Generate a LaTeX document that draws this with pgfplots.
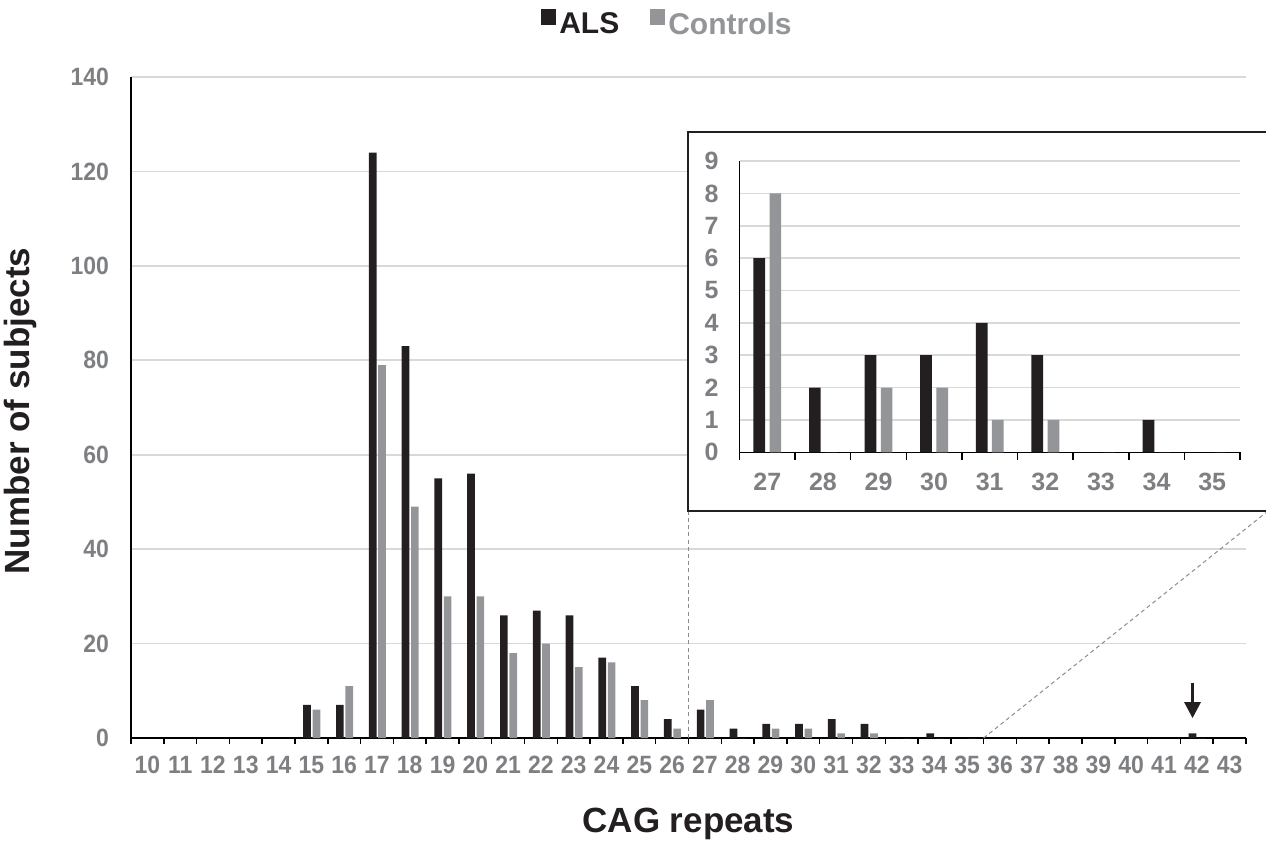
\documentclass[border=0pt]{standalone}
\usepackage{pgfplots}
\pgfplotsset{compat=1.18}
\usepackage{pgfplotstable}
\usetikzlibrary{arrows.meta}
\usepackage{fontspec}
\setmainfont{Liberation Sans}
\newfontfamily\tickfont[FakeStretch=0.92]{Liberation Sans}
\definecolor{alsc}{RGB}{35,31,32}
\definecolor{ctlc}{RGB}{147,149,152}
\definecolor{tickc}{RGB}{125,127,130}
\definecolor{gridc}{RGB}{217,217,217}
\definecolor{dashc}{RGB}{140,140,140}

\pgfplotstableread{
cag als ctl
15 7 6
16 7 11
17 124 79
18 83 49
19 55 30
20 56 30
21 26 18
22 27 20
23 26 15
24 17 16
25 11 8
26 4 2
27 6 8
28 2 0
29 3 2
30 3 2
31 4 1
32 3 1
33 0 0
34 1 0
35 0 0
42 1 0
}\maindata

\pgfplotstableread{
cag als ctl
27 6 8
28 2 0
29 3 2
30 3 2
31 4 1
32 3 1
33 0 0
34 1 0
35 0 0
}\insetdata

\pgfplotsset{
  common/.style={
    scale only axis,
    anchor=south west,
    axis lines*=left,
    axis line style={black, line width=0.75pt},
    ymajorgrids,
    grid style={gridc, line width=0.8pt},
    major tick length=0pt,
    minor tick length=3.2pt,
    tick align=outside,
    minor tick style={black, line width=0.75pt},
    /pgf/number format/assume math mode=true,
    every tick label/.append style={font=\tickfont\fontsize{12.5}{14}\selectfont\bfseries, text=tickc},
    clip=false,
  }
}

\begin{document}
\begin{tikzpicture}
\path[use as bounding box] (0,0) rectangle (633pt,-423.5pt);
\clip (0,0) rectangle (633pt,-423.5pt);

\begin{axis}[common,
  at={(65.5pt,-369pt)},
  width=557.5pt, height=330.5pt,
  xmin=9.5, xmax=43.5, ymin=0, ymax=140,
  ytick={0,20,...,140},
  xtick={10,...,43},
  minor xtick={9.5,10.5,...,43.5},
  yticklabel style={xshift=-7.5pt},
  xticklabel style={yshift=-5.5pt},
  xlabel={CAG repeats},
  xlabel style={at={(axis description cs:0.5,-0.130)}, anchor=center, font=\fontsize{17.5}{19}\selectfont\bfseries, text=alsc},
  ylabel={Number of subjects},
  ylabel style={at={(axis description cs:-0.0996,0.4947)}, anchor=center, font=\fontsize{17.5}{19}\selectfont\bfseries, text=alsc},
  legend style={at={(0.4816,1.0787)}, anchor=center, draw=none, fill=none,
    legend columns=2, font=\fontsize{15}{17}\selectfont\bfseries,
    nodes={inner xsep=1.5pt},
    /tikz/every even column/.append style={column sep=14pt}},
  legend image code/.code={\fill[#1] (0pt,-0.2pt) rectangle (7.5pt,7.8pt);},
]
\addplot[ybar, bar width=0.235, bar shift=-0.13, fill=alsc, draw=none] table[x=cag,y=als]{\maindata};
\addlegendentry{\textcolor{alsc}{ALS}}
\addplot[ybar, bar width=0.232, bar shift=0.155, fill=ctlc, draw=none] table[x=cag,y=ctl]{\maindata};
\addlegendentry{\textcolor{ctlc}{Controls}}
\coordinate (d1) at (axis cs:26.5,0);
\coordinate (d2) at (axis cs:35.5,0);
\draw[alsc, line width=1.4pt, -{Triangle[width=8pt,length=8pt]}] (axis cs:41.87,11.7) -- (axis cs:41.87,4.2);
\end{axis}

\coordinate (bl) at (344pt,-255.5pt);
\coordinate (br) at (634pt,-255.5pt);
\draw[dashc, line width=0.5pt, dash pattern=on 2pt off 1.6pt] (d1) -- (d1 |- bl);
\draw[dashc, line width=0.5pt, dash pattern=on 2pt off 1.6pt] (d2) -- (br);
\draw[fill=white, draw=alsc, line width=0.8pt] (344pt,-66pt) rectangle (636pt,-255.5pt);

\begin{axis}[common,
  at={(369.75pt,-226.15pt)},
  width=250.25pt, height=145.65pt,
  xmin=26.5, xmax=35.5, ymin=0, ymax=9,
  ytick={0,...,9},
  xtick={27,...,35},
  minor xtick={26.5,27.5,...,35.5},
  minor tick length=3.8pt,
  every tick label/.append style={font=\fontsize{12.5}{14}\selectfont\bfseries},
  yticklabel style={xshift=-7pt},
  xticklabel style={yshift=-7pt},
]
\addplot[ybar, bar width=0.21, bar shift=-0.145, fill=alsc, draw=none] table[x=cag,y=als]{\insetdata};
\addplot[ybar, bar width=0.21, bar shift=0.145, fill=ctlc, draw=none] table[x=cag,y=ctl]{\insetdata};
\end{axis}
\end{tikzpicture}
\end{document}
